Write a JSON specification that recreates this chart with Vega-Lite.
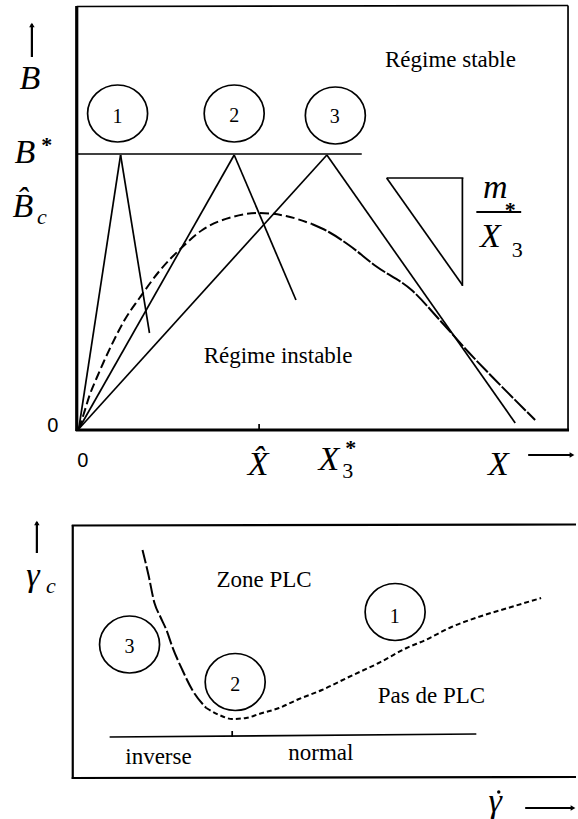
{
  "$schema": "https://vega.github.io/schema/vega-lite/v6.json",
  "width": 578,
  "height": 819,
  "autosize": {"type": "fit", "contains": "padding"},
  "padding": 0,
  "background": "white",
  "config": {"view": {"stroke": null}},
  "datasets": {
    "segs": [
      {"kind": "thick", "x": 77, "y": 6, "x2": 77, "y2": 431},
      {"kind": "thick", "x": 76, "y": 430, "x2": 571, "y2": 430},
      {"kind": "medium", "x": 73, "y": 525, "x2": 73, "y2": 779},
      {"kind": "medium", "x": 72, "y": 525.5, "x2": 578, "y2": 524.5},
      {"kind": "medium", "x": 72, "y": 778, "x2": 578, "y2": 777},
      {"kind": "thin", "x": 77, "y": 6.5, "x2": 570, "y2": 5.5},
      {"kind": "thin", "x": 570, "y": 5.5, "x2": 570, "y2": 431},
      {"kind": "thin", "x": 77, "y": 154, "x2": 363, "y2": 154},
      {"kind": "thin", "x": 79, "y": 429, "x2": 121, "y2": 155},
      {"kind": "thin", "x": 121, "y": 155, "x2": 150, "y2": 333},
      {"kind": "thin", "x": 79, "y": 429, "x2": 235, "y2": 155},
      {"kind": "thin", "x": 235, "y": 155, "x2": 297, "y2": 300},
      {"kind": "thin", "x": 79, "y": 429, "x2": 328, "y2": 155},
      {"kind": "thin", "x": 328, "y": 155, "x2": 517, "y2": 423},
      {"kind": "thin", "x": 388, "y": 178, "x2": 465, "y2": 178},
      {"kind": "thin", "x": 464, "y": 178, "x2": 464, "y2": 286},
      {"kind": "thin", "x": 388, "y": 178, "x2": 464, "y2": 285},
      {"kind": "medium", "x": 478, "y": 212, "x2": 523, "y2": 212},
      {"kind": "thin", "x": 260, "y": 424, "x2": 260, "y2": 430},
      {"kind": "medium", "x": 32, "y": 24, "x2": 32, "y2": 57},
      {"kind": "medium", "x": 37, "y": 522, "x2": 37, "y2": 553},
      {"kind": "medium", "x": 530, "y": 455, "x2": 574, "y2": 455},
      {"kind": "medium", "x": 527, "y": 808, "x2": 575, "y2": 808},
      {"kind": "thin", "x": 110, "y": 737, "x2": 478, "y2": 734},
      {"kind": "thin", "x": 233, "y": 731, "x2": 233, "y2": 737}
    ],
    "curves": [
      {"seg": "top-a", "x": 79, "y": 429},
      {"seg": "top-a", "x": 84, "y": 414},
      {"seg": "top-a", "x": 90, "y": 395},
      {"seg": "top-a", "x": 97, "y": 378},
      {"seg": "top-a", "x": 104, "y": 362},
      {"seg": "top-a", "x": 112, "y": 345},
      {"seg": "top-a", "x": 125, "y": 320},
      {"seg": "top-a", "x": 140, "y": 298},
      {"seg": "top-a", "x": 160, "y": 271},
      {"seg": "top-a", "x": 183, "y": 247},
      {"seg": "top-a", "x": 203, "y": 230},
      {"seg": "top-a", "x": 233, "y": 217},
      {"seg": "top-a", "x": 260, "y": 213},
      {"seg": "top-a", "x": 287, "y": 216},
      {"seg": "top-a", "x": 313, "y": 224},
      {"seg": "top-b", "x": 313, "y": 224},
      {"seg": "top-b", "x": 330, "y": 232},
      {"seg": "top-b", "x": 350, "y": 245},
      {"seg": "top-b", "x": 377, "y": 266},
      {"seg": "top-b", "x": 413, "y": 290},
      {"seg": "top-b", "x": 443, "y": 322},
      {"seg": "top-b", "x": 470, "y": 352},
      {"seg": "top-b", "x": 497, "y": 380},
      {"seg": "top-b", "x": 537, "y": 420},
      {"seg": "bot-a", "x": 143, "y": 550},
      {"seg": "bot-a", "x": 149, "y": 575},
      {"seg": "bot-a", "x": 155, "y": 603},
      {"seg": "bot-a", "x": 161, "y": 617},
      {"seg": "bot-a", "x": 167, "y": 630},
      {"seg": "bot-a", "x": 173, "y": 647},
      {"seg": "bot-a", "x": 183, "y": 670},
      {"seg": "bot-a", "x": 193, "y": 690},
      {"seg": "bot-a", "x": 207, "y": 708},
      {"seg": "bot-b", "x": 207, "y": 708},
      {"seg": "bot-b", "x": 220, "y": 715},
      {"seg": "bot-b", "x": 233, "y": 719},
      {"seg": "bot-b", "x": 247, "y": 718},
      {"seg": "bot-b", "x": 260, "y": 714},
      {"seg": "bot-b", "x": 280, "y": 708},
      {"seg": "bot-b", "x": 300, "y": 699},
      {"seg": "bot-b", "x": 323, "y": 690},
      {"seg": "bot-b", "x": 350, "y": 677},
      {"seg": "bot-b", "x": 380, "y": 663},
      {"seg": "bot-b", "x": 408, "y": 648},
      {"seg": "bot-b", "x": 427, "y": 640},
      {"seg": "bot-b", "x": 453, "y": 627},
      {"seg": "bot-b", "x": 480, "y": 617},
      {"seg": "bot-b", "x": 513, "y": 607},
      {"seg": "bot-b", "x": 543, "y": 598}
    ],
    "circles": [
      {"x": 118, "y": 113.5},
      {"x": 235, "y": 113.5},
      {"x": 336.5, "y": 115.5},
      {"x": 130, "y": 644.5},
      {"x": 236, "y": 682},
      {"x": 396.5, "y": 612}
    ],
    "heads": [
      {"dir": "up", "x": 32, "y": 25},
      {"dir": "up", "x": 37, "y": 523},
      {"dir": "right", "x": 574, "y": 455},
      {"dir": "right", "x": 575, "y": 808},
      {"dir": "dot", "x": 500.5, "y": 792}
    ],
    "texts": [
      {"role": "region", "text": "Régime stable", "x": 452, "y": 67},
      {"role": "region", "text": "Régime instable", "x": 279, "y": 363},
      {"role": "region", "text": "Zone PLC", "x": 265, "y": 587},
      {"role": "region", "text": "Pas de PLC", "x": 433, "y": 703},
      {"role": "region", "text": "inverse", "x": 159, "y": 764},
      {"role": "region", "text": "normal", "x": 322, "y": 760},
      {"role": "digit", "text": "1", "x": 118, "y": 122.5},
      {"role": "digit", "text": "2", "x": 235, "y": 122},
      {"role": "digit", "text": "3", "x": 336, "y": 123},
      {"role": "digit", "text": "3", "x": 130, "y": 653},
      {"role": "digit", "text": "2", "x": 236, "y": 691},
      {"role": "digit", "text": "1", "x": 396, "y": 623},
      {"role": "math", "text": "B", "x": 30, "y": 89},
      {"role": "math", "text": "B", "x": 25, "y": 163},
      {"role": "math", "text": "B\u0302", "x": 23, "y": 217},
      {"role": "math", "text": "X\u0302", "x": 259, "y": 475},
      {"role": "math", "text": "X", "x": 330, "y": 470},
      {"role": "math", "text": "X", "x": 500, "y": 475},
      {"role": "math", "text": "X", "x": 492, "y": 247},
      {"role": "math", "text": "m", "x": 497, "y": 198},
      {"role": "math", "text": "γ", "x": 33, "y": 586},
      {"role": "math", "text": "γ", "x": 497, "y": 812},
      {"role": "sub", "text": "c", "x": 42, "y": 224},
      {"role": "sub", "text": "c", "x": 51, "y": 593},
      {"role": "subnum", "text": "3", "x": 349, "y": 478},
      {"role": "subnum", "text": "3", "x": 519, "y": 257},
      {"role": "star", "text": "*", "x": 47, "y": 152},
      {"role": "star", "text": "*", "x": 352, "y": 455},
      {"role": "star", "text": "*", "x": 512, "y": 217},
      {"role": "zero", "text": "0", "x": 53, "y": 432},
      {"role": "zero", "text": "0", "x": 83, "y": 467}
    ]
  },
  "encoding": {
    "x": {"field": "x", "type": "quantitative", "scale": {"domain": [0, 578], "nice": false, "zero": false}, "axis": null},
    "y": {"field": "y", "type": "quantitative", "scale": {"domain": [0, 819], "nice": false, "zero": false, "reverse": true}, "axis": null}
  },
  "layer": [
    {
      "data": {"name": "segs"},
      "transform": [{"filter": "datum.kind == 'thick'"}],
      "mark": {"type": "rule", "color": "black", "strokeWidth": 3.2},
      "encoding": {"x2": {"field": "x2"}, "y2": {"field": "y2"}}
    },
    {
      "data": {"name": "segs"},
      "transform": [{"filter": "datum.kind == 'medium'"}],
      "mark": {"type": "rule", "color": "black", "strokeWidth": 2.2},
      "encoding": {"x2": {"field": "x2"}, "y2": {"field": "y2"}}
    },
    {
      "data": {"name": "segs"},
      "transform": [{"filter": "datum.kind == 'thin'"}],
      "mark": {"type": "rule", "color": "black", "strokeWidth": 1.7},
      "encoding": {"x2": {"field": "x2"}, "y2": {"field": "y2"}}
    },
    {
      "data": {"name": "curves"},
      "mark": {"type": "line", "color": "black", "strokeWidth": 2, "interpolate": "monotone"},
      "encoding": {
        "strokeDash": {
          "field": "seg", "type": "nominal", "legend": null,
          "scale": {"domain": ["top-a", "top-b", "bot-a", "bot-b"], "range": [[9, 4], [16, 2], [14, 3], [5, 3]]}
        }
      }
    },
    {
      "data": {"name": "circles"},
      "mark": {"type": "point", "shape": "M-1,0A1,0.95,0,1,1,1,0A1,0.95,0,1,1,-1,0Z", "size": 3600, "filled": false, "color": "black", "strokeWidth": 1.7, "opacity": 1}
    },
    {
      "data": {"name": "heads"},
      "transform": [{"filter": "datum.dir == 'up'"}],
      "mark": {"type": "point", "shape": "triangle-up", "size": 30, "filled": true, "color": "black", "opacity": 1}
    },
    {
      "data": {"name": "heads"},
      "transform": [{"filter": "datum.dir == 'right'"}],
      "mark": {"type": "point", "shape": "triangle-right", "size": 30, "filled": true, "color": "black", "opacity": 1}
    },
    {
      "data": {"name": "heads"},
      "transform": [{"filter": "datum.dir == 'dot'"}],
      "mark": {"type": "point", "shape": "circle", "size": 12, "filled": true, "color": "black", "opacity": 1}
    },
    {
      "data": {"name": "texts"},
      "transform": [{"filter": "datum.role == 'region'"}],
      "mark": {"type": "text", "font": "Times New Roman, Liberation Serif, serif", "fontSize": 23, "align": "center", "baseline": "alphabetic", "color": "black"},
      "encoding": {"text": {"field": "text"}}
    },
    {
      "data": {"name": "texts"},
      "transform": [{"filter": "datum.role == 'digit'"}],
      "mark": {"type": "text", "font": "Times New Roman, Liberation Serif, serif", "fontSize": 20, "align": "center", "baseline": "alphabetic", "color": "black"},
      "encoding": {"text": {"field": "text"}}
    },
    {
      "data": {"name": "texts"},
      "transform": [{"filter": "datum.role == 'math'"}],
      "mark": {"type": "text", "font": "Times New Roman, Liberation Serif, serif", "fontSize": 34, "fontStyle": "italic", "align": "center", "baseline": "alphabetic", "color": "black"},
      "encoding": {"text": {"field": "text"}}
    },
    {
      "data": {"name": "texts"},
      "transform": [{"filter": "datum.role == 'sub'"}],
      "mark": {"type": "text", "font": "Times New Roman, Liberation Serif, serif", "fontSize": 22, "fontStyle": "italic", "align": "center", "baseline": "alphabetic", "color": "black"},
      "encoding": {"text": {"field": "text"}}
    },
    {
      "data": {"name": "texts"},
      "transform": [{"filter": "datum.role == 'subnum'"}],
      "mark": {"type": "text", "font": "Times New Roman, Liberation Serif, serif", "fontSize": 22, "align": "center", "baseline": "alphabetic", "color": "black"},
      "encoding": {"text": {"field": "text"}}
    },
    {
      "data": {"name": "texts"},
      "transform": [{"filter": "datum.role == 'star'"}],
      "mark": {"type": "text", "font": "Times New Roman, Liberation Serif, serif", "fontSize": 22, "fontWeight": "bold", "align": "center", "baseline": "alphabetic", "color": "black"},
      "encoding": {"text": {"field": "text"}}
    },
    {
      "data": {"name": "texts"},
      "transform": [{"filter": "datum.role == 'zero'"}],
      "mark": {"type": "text", "font": "Liberation Sans", "fontSize": 20, "align": "center", "baseline": "alphabetic", "color": "black"},
      "encoding": {"text": {"field": "text"}}
    }
  ]
}
